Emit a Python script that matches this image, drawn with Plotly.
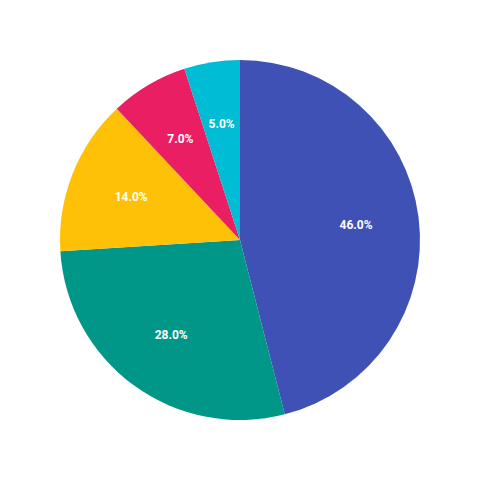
import plotly.graph_objects as go

labels = ["A", "B", "C", "D", "E"]
values = [46, 28, 14, 7, 5]
colors = ["#3F51B5", "#009688", "#FFC107", "#E91E63", "#00BCD4"]

common = dict(
    labels=labels,
    values=values,
    sort=False,
    direction="clockwise",
    rotation=0,
)

# Filled pie without text
fig = go.Figure(go.Pie(
    **common,
    domain=dict(x=[0, 1], y=[0, 1]),
    marker=dict(colors=colors, line=dict(width=0)),
    textinfo="none",
    hoverinfo="label+percent",
))
# Transparent thin ring carrying the labels at ~65% of the pie radius
fig.add_trace(go.Pie(
    **common,
    domain=dict(x=[0.1243, 0.8757], y=[0.1243, 0.8757]),
    hole=0.73,
    marker=dict(colors=["rgba(0,0,0,0)"] * len(values), line=dict(width=0)),
    texttemplate="%{percent:.1%}",
    textposition="inside",
    insidetextorientation="horizontal",
    textfont=dict(family="Roboto", size=12, color="white", weight="bold"),
    hoverinfo="skip",
))
fig.update_layout(
    width=480, height=480,
    margin=dict(l=60, r=60, t=60, b=60),
    showlegend=False,
    paper_bgcolor="white",
    plot_bgcolor="white",
)
fig.write_html("out.html", config={"displayModeBar": False},
               post_script="document.body.style.margin='0';")
